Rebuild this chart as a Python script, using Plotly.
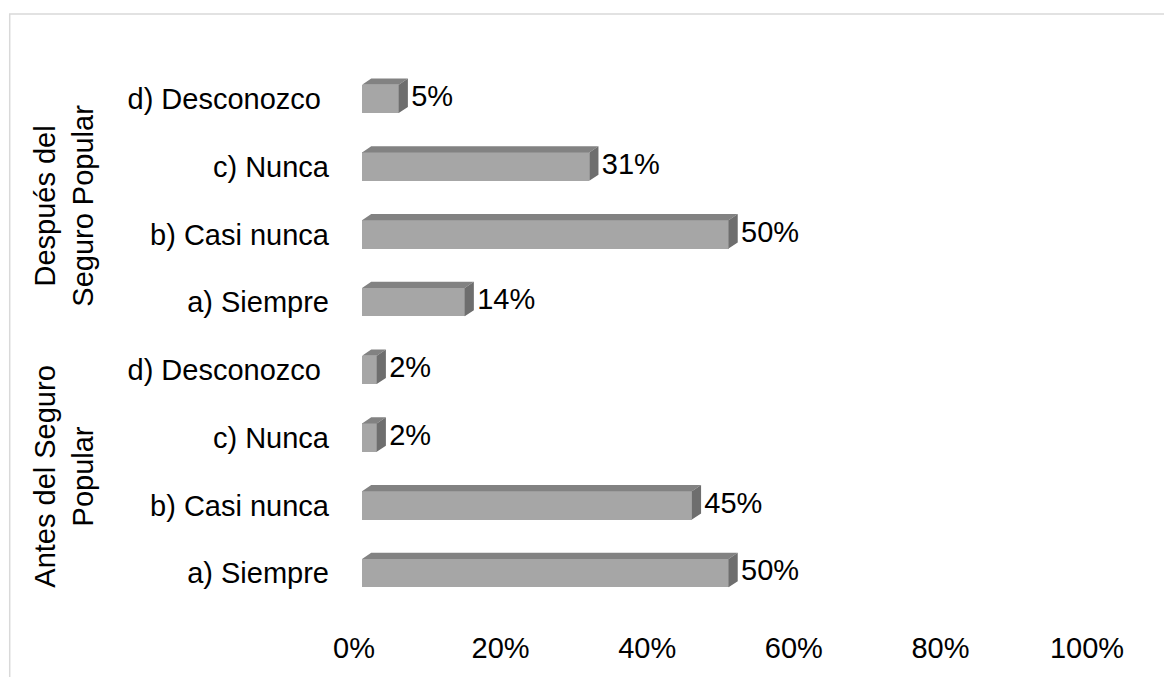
import plotly.graph_objects as go

# ---- data ----
groups = ["Antes del Seguro<br>Popular", "Después del<br>Seguro Popular"]
categories = ["a) Siempre", "b) Casi nunca", "c) Nunca", "d) Desconozco\u00a0"]
antes_values = [50, 45, 2, 2]
despues_values = [14, 50, 31, 5]
x_ticks = [0, 20, 40, 60, 80, 100]
x_ticktext = ["0%", "20%", "40%", "60%", "80%", "100%"]

# ---- derived ----
values = antes_values + despues_values
labels = categories + categories
pos = list(range(len(values)))

FRONT = "#a6a6a6"
TOP = "#828282"
SIDE = "#6e6e6e"
FONT = "Liberation Sans, Arial, sans-serif"
FS = 29

off = 1.1      # offset of bars from axis origin (x units)
dx = 1.25      # depth in x units
dy = 0.09      # depth in category units
w = 0.42       # bar front height
gap = 0.45     # gap between bar and its label (x units)

fig = go.Figure()
fig.add_trace(go.Bar(
    orientation="h", x=values, y=pos, base=off, width=w,
    marker=dict(color=FRONT, line=dict(width=0)),
    hoverinfo="skip", showlegend=False,
))

tx, ty, sx, sy = [], [], [], []
for v, p in zip(values, pos):
    yt = p + w / 2
    yb = p - w / 2
    tx += [off, off + v, off + v + dx, off + dx, off, None]
    ty += [yt, yt, yt + dy, yt + dy, yt, None]
    sx += [off + v, off + v, off + v + dx, off + v + dx, off + v, None]
    sy += [yb, yt, yt + dy, yb + dy, yb, None]

fig.add_trace(go.Scatter(x=tx, y=ty, mode="lines", fill="toself", fillcolor=TOP,
                         line=dict(width=0, color=TOP), hoverinfo="skip", showlegend=False))
fig.add_trace(go.Scatter(x=sx, y=sy, mode="lines", fill="toself", fillcolor=SIDE,
                         line=dict(width=0, color=SIDE), hoverinfo="skip", showlegend=False))

fig.add_trace(go.Scatter(
    x=[off + v + dx + gap for v in values], y=pos, mode="text",
    text=[f"{v}%" for v in values], textposition="middle right",
    textfont=dict(family=FONT, size=FS, color="#000000"),
    hoverinfo="skip", showlegend=False, cliponaxis=False,
))

# group labels
n = len(categories)
for gi, g in enumerate(groups):
    center = sum(pos[gi * n:(gi + 1) * n]) / n - 0.07
    fig.add_annotation(
        text=g, xref="paper", yref="y", x=-0.395, y=center,
        textangle=-90, showarrow=False, align="center",
        font=dict(family=FONT, size=FS, color="#000000"),
        xanchor="center", yanchor="middle",
    )

# chart frame
fig.add_shape(type="rect", xref="paper", yref="paper",
              x0=-0.4697, x1=1.2, y0=-0.2, y1=1.0943,
              line=dict(color="#d9d9d9", width=1.5), fillcolor="rgba(0,0,0,0)", layer="below")

fig.update_layout(
    width=1172, height=677,
    margin=dict(l=346, r=92.5, t=57, b=78),
    paper_bgcolor="white", plot_bgcolor="white",
    bargap=0,
    font=dict(family=FONT, size=FS, color="#000000"),
    xaxis=dict(range=[0, 100], tickvals=x_ticks, ticktext=x_ticktext,
               showgrid=False, zeroline=False, showline=False, ticks="",
               ticklabelstandoff=21, tickfont=dict(size=FS, family=FONT)),
    yaxis=dict(range=[-0.5, 7.5], tickvals=pos, ticktext=labels,
               showgrid=False, zeroline=False, showline=False, ticks="",
               ticklabelstandoff=24, tickfont=dict(size=FS, family=FONT)),
)

fig.write_html("out.html")
